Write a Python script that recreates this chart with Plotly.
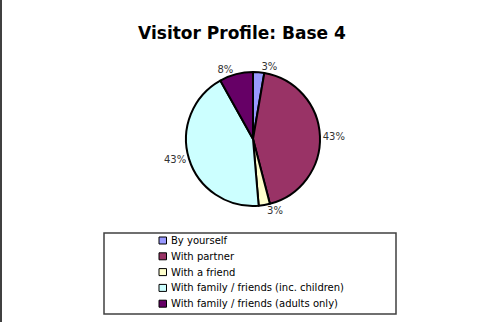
import plotly.graph_objects as go

labels = ["By yourself", "With partner", "With a friend",
          "With family / friends (inc. children)", "With family / friends (adults only)"]
counts = [1, 16, 1, 16, 3]
colors = ["#9999FF", "#993366", "#FFFFCC", "#CCFFFF", "#660066"]

W, H = 479, 322
cx, cy, r = 253, 139, 67

fig = go.Figure(go.Pie(
    labels=labels, values=counts, sort=False, direction="clockwise", rotation=0,
    marker=dict(colors=colors, line=dict(color="#000000", width=2)),
    texttemplate="%{percent:.0%}", textposition="outside",
    textfont=dict(family="DejaVu Sans", size=10, color="#333333"),
    domain=dict(x=[(cx - r) / W, (cx + r) / W], y=[1 - (cy + r) / H, 1 - (cy - r) / H]),
    hoverinfo="skip", showlegend=False,
))

# Legend drawn manually (Excel-style compact legend)
box_l, box_r, box_t, box_b = 104, 396, 233, 314
row0, row_step = 240.5, 15.8
sq_l, sq_r, half = 159, 166.5, 3.5
text_x = 169

shapes = [
    dict(type="rect", xref="paper", yref="paper", x0=box_l / W, x1=box_r / W,
         y0=1 - box_b / H, y1=1 - box_t / H, line=dict(color="#404040", width=1.5)),
    dict(type="line", xref="paper", yref="paper", x0=1 / W, x1=1 / W, y0=0, y1=1,
         line=dict(color="#404040", width=2)),
]
annotations = []
for i, (lab, col) in enumerate(zip(labels, colors)):
    yc = row0 + i * row_step
    shapes.append(dict(type="rect", xref="paper", yref="paper",
                       x0=sq_l / W, x1=sq_r / W, y0=1 - (yc + half) / H, y1=1 - (yc - half) / H,
                       fillcolor=col, line=dict(color="#000000", width=1)))
    annotations.append(dict(text=lab, xref="paper", yref="paper", x=text_x / W, y=1 - yc / H,
                            xanchor="left", yanchor="middle", showarrow=False,
                            font=dict(family="DejaVu Sans", size=10, color="#000000")))

fig.update_layout(
    width=W, height=H, margin=dict(l=0, r=0, t=0, b=0),
    paper_bgcolor="white", plot_bgcolor="white",
    title=dict(text="<b>Visitor Profile: Base 4</b>", x=242 / W, xanchor="center",
               y=1 - 33 / H, yanchor="middle",
               font=dict(family="DejaVu Sans", size=17, color="#000000")),
    showlegend=False,
    shapes=shapes, annotations=annotations,
)

fig.write_html("out.html")
